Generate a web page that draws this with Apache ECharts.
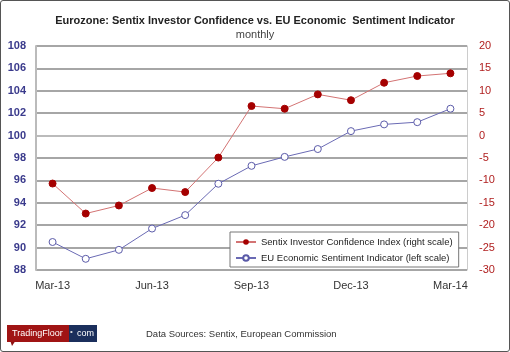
<!DOCTYPE html>
<html>
<head>
<meta charset="utf-8">
<script src="https://cdn.jsdelivr.net/npm/echarts@6/dist/echarts.min.js"></script>
<style>
  html, body { margin: 0; padding: 0; background: #fff; }
  #chart { width: 508px; height: 350px; border: 1px solid #555; border-radius: 3px; }
</style>
</head>
<body>
<div id="chart"></div>
<script>
  // monthly, Mar-13 .. Mar-14
  var months = ['Mar-13', 'Apr-13', 'May-13', 'Jun-13', 'Jul-13', 'Aug-13', 'Sep-13',
                'Oct-13', 'Nov-13', 'Dec-13', 'Jan-14', 'Feb-14', 'Mar-14']
  var sentix = [-10.7, -17.4, -15.6, -11.7, -12.6, -4.9, 6.6, 6.0, 9.2, 7.9, 11.8, 13.3, 13.9]
  var esi = [90.5, 89.0, 89.8, 91.7, 92.9, 95.7, 97.3, 98.1, 98.8, 100.4, 101.0, 101.2, 102.4]
  var sentixName = 'Sentix Investor Confidence Index (right scale)'
  var esiName = 'EU Economic Sentiment Indicator (left scale)'

  var font = 'Liberation Sans'
  var chart = echarts.init(document.getElementById('chart'))
  chart.setOption({
    animation: false,
    textStyle: { fontFamily: font },
    title: {
      text: 'Eurozone: Sentix Investor Confidence vs. EU Economic  Sentiment Indicator',
      subtext: 'monthly',
      left: 'center',
      top: 9,
      itemGap: 3,
      textStyle: { fontSize: 11, fontWeight: 'bold', color: '#222', fontFamily: font },
      subtextStyle: { fontSize: 11, color: '#444', fontFamily: font }
    },
    grid: { left: 35, right: 42, top: 45, bottom: 81 },
    legend: {
      orient: 'vertical',
      left: 229,
      top: 231,
      itemGap: 6,
      itemWidth: 20,
      itemHeight: 7,
      padding: [5, 6, 4, 5],
      borderColor: '#777',
      borderWidth: 1,
      backgroundColor: '#fff',
      textStyle: { fontSize: 9.5, color: '#222', fontFamily: font },
      data: [sentixName, esiName]
    },
    xAxis: {
      type: 'category',
      data: months,
      boundaryGap: true,
      axisTick: { show: false },
      axisLine: { lineStyle: { color: '#bbb', width: 2 } },
      axisLabel: { interval: 2, color: '#333', fontSize: 11, margin: 10 }
    },
    yAxis: [{
      type: 'value',
      min: 88,
      max: 108,
      interval: 2,
      axisLine: { show: true, lineStyle: { color: '#bbb', width: 2 } },
      axisTick: { show: false },
      splitLine: { lineStyle: { color: '#888', width: 1.5 } },
      axisLabel: { color: '#3a3a8c', fontSize: 11, fontWeight: 'bold', margin: 10 }
    }, {
      type: 'value',
      min: -30,
      max: 20,
      interval: 5,
      position: 'right',
      axisLine: { show: true, lineStyle: { color: '#ccc', width: 1 } },
      axisTick: { show: false },
      splitLine: { show: false },
      axisLabel: { color: '#b01e1e', fontSize: 11, margin: 12 }
    }],
    series: [{
      name: sentixName,
      type: 'line',
      yAxisIndex: 1,
      data: sentix,
      symbol: 'circle',
      symbolSize: 7,
      lineStyle: { color: '#d37373', width: 1 },
      itemStyle: { color: '#a50000', borderColor: '#a50000' },
      z: 3
    }, {
      name: esiName,
      type: 'line',
      yAxisIndex: 0,
      data: esi,
      symbol: 'circle',
      symbolSize: 7,
      lineStyle: { color: '#6a6ab4', width: 1 },
      itemStyle: { color: '#fff', borderColor: '#5a5aa8', borderWidth: 1 },
      z: 3
    }],
    graphic: [
      // TradingFloor.com logo
      { type: 'polygon', shape: { points: [[9, 339], [15, 339], [11, 345]] }, style: { fill: '#8c1010' } },
      { type: 'rect', shape: { x: 6, y: 324, width: 62, height: 17 }, style: { fill: '#a01414' } },
      { type: 'rect', shape: { x: 68, y: 324, width: 28, height: 17 }, style: { fill: '#1b2f5c' } },
      { type: 'text', left: 11, top: 328, style: { text: 'TradingFloor', fill: '#fff', fontSize: 9, fontFamily: font } },
      { type: 'text', left: 69, top: 327, style: { text: '•', fill: '#ddd', fontSize: 8, fontFamily: font } },
      { type: 'text', left: 76, top: 328, style: { text: 'com', fill: '#fff', fontSize: 9, fontFamily: font } },
      { type: 'text', left: 145, top: 328, style: { text: 'Data Sources: Sentix, European Commission', fill: '#333', fontSize: 9.5, fontFamily: font } }
    ]
  })
</script>
</body>
</html>
